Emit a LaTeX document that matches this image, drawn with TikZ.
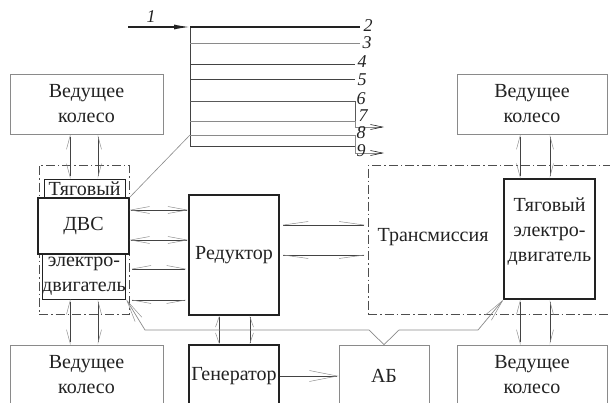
\documentclass[tikz,border=0pt]{standalone}
\usepackage{fontspec}
\setmainfont{Liberation Serif}
\usetikzlibrary{arrows.meta,calc}
\definecolor{ink}{HTML}{222222}
\definecolor{lg}{HTML}{8A8A8A}
\definecolor{tipgray}{HTML}{8F8F8F}
\begin{document}
\begin{tikzpicture}[x=1pt,y=-1pt,
  txt/.style={font=\fontsize{20}{25}\selectfont, text=ink, align=center},
  num/.style={font=\fontsize{18}{18}\selectfont\itshape, text=ink, inner sep=0pt},
  gbox/.style={draw=lg, line width=0.8pt, inner sep=0pt, fill=white, txt},
  kbox/.style={draw=ink, line width=1.3pt, inner sep=0pt, fill=white, txt},
  mbox/.style={draw=ink, line width=0.9pt, inner sep=0pt, fill=white, txt},
  ddbox/.style={draw=ink!80, line width=0.6pt, dash pattern=on 9pt off 3pt on 1.5pt off 3pt},
  conn/.style={draw=ink!85, line width=0.7pt},
  hA/.style={{Straight Barb[harpoon,swap,length=#1,width=7pt,line width=0.5pt,color=tipgray]}-{Straight Barb[harpoon,length=#1,width=7pt,line width=0.5pt,color=tipgray]}},
  hB/.style={{Straight Barb[harpoon,length=#1,width=7pt,line width=0.5pt,color=tipgray]}-{Straight Barb[harpoon,swap,length=#1,width=7pt,line width=0.5pt,color=tipgray]}},
  hF/.style={{Straight Barb[length=#1,width=7pt,line width=0.5pt,color=tipgray]}-{Straight Barb[length=#1,width=7pt,line width=0.5pt,color=tipgray]}},
]
\clip (0,0) rectangle (610,402);

% dash-dot groups
\node[ddbox, minimum width=90pt, minimum height=149pt, inner sep=0pt] (hyb) at (84,239.5) {};
\node[ddbox, minimum width=262pt, minimum height=149pt, inner sep=0pt] (trans) at (499,239.5) {};
\node[txt] (transT) at (433,237) {Трансмиссия};

% wheels
\node[gbox, minimum width=153pt, minimum height=60pt] (wTL) at (86.5,104) {Ведущее\\колесо};
\node[gbox, minimum width=150pt, minimum height=60pt] (wTR) at (532,104) {Ведущее\\колесо};
\node[gbox, minimum width=153pt, minimum height=60pt] (wBL) at (86.5,375) {Ведущее\\колесо};
\node[gbox, minimum width=150pt, minimum height=60pt] (wBR) at (532,375) {Ведущее\\колесо};

% hybrid block
\node[mbox, minimum width=81pt, minimum height=19pt] (tyag) at (84.5,188.5) {Тяговый};
\node[mbox, minimum width=82pt, minimum height=45pt] (emL) at (84,276.5) {электро-\\двигатель};
\node[kbox, minimum width=91pt, minimum height=56pt] (dvs) at (83.5,226) {ДВС};

% other blocks
\node[kbox, minimum width=90pt, minimum height=120pt] (red) at (234,255) {Редуктор};
\node[kbox, minimum width=90pt, minimum height=62pt] (gen) at (234,376) {Генератор};
\node[gbox, minimum width=90pt, minimum height=62pt] (ab) at (384,376) {АБ};
\node[kbox, minimum width=91pt, minimum height=120pt] (motR) at (549.5,239) {};
\node[txt] (motRt) at (549.5,232) {Тяговый\\электро-\\двигатель};

% wheel connectors
\draw[conn, hB=13pt] (70,0 |- wTL.south) -- (70,0 |- tyag.north);
\draw[conn, hA=13pt] (98,0 |- wTL.south) -- (98,0 |- tyag.north);
\draw[conn, hB=13pt] (70,0 |- emL.south) -- (70,0 |- wBL.north);
\draw[conn, hA=13pt] (98,0 |- emL.south) -- (98,0 |- wBL.north);
\draw[conn, hB=13pt] (520,0 |- wTR.south) -- (520,0 |- motR.north);
\draw[conn, hA=13pt] (550,0 |- wTR.south) -- (550,0 |- motR.north);
\draw[conn, hB=13pt] (520,0 |- motR.south) -- (520,0 |- wBR.north);
\draw[conn, hA=13pt] (550,0 |- motR.south) -- (550,0 |- wBR.north);

% hybrid block to reducer
\draw[conn, hF=19pt] (hyb.east |- 0,210) -- (red.west |- 0,210);
\draw[conn, hF=19pt] (hyb.east |- 0,240) -- (red.west |- 0,240);
\draw[conn, hA=19pt] (hyb.east |- 0,269) -- (red.west |- 0,269);
\draw[conn, hB=19pt] (hyb.east |- 0,300) -- (red.west |- 0,300);

% reducer to transmission
\draw[conn, hA=25pt] (red.east |- 0,225) -- (trans.west |- 0,225);
\draw[conn, hB=25pt] (red.east |- 0,255) -- (trans.west |- 0,255);

% reducer to generator
\draw[conn, hB=10pt] (219,0 |- red.south) -- (219,0 |- gen.north);
\draw[conn, hA=10pt] (250,0 |- red.south) -- (250,0 |- gen.north);

% generator to battery
\draw[conn, -{Straight Barb[length=28pt,width=11pt,line width=0.5pt,color=tipgray]}] (gen.east) -- (ab.west);

% electrical line
\draw[draw=lg, line width=0.7pt,
  {Straight Barb[length=22pt,width=8pt,line width=0.5pt,color=tipgray]}-{Straight Barb[length=22pt,width=8pt,line width=0.5pt,color=tipgray]}]
  (emL.south east) -- (145,330) -- (369,330) -- (ab.north) -- (399,330) -- (478,330) -- (motR.south west);

% legend
\coordinate (l0) at (190,27);
\coordinate (l9) at (190,146);
\draw[line width=1.3pt, draw=ink, -{Latex[length=16pt,width=5pt]}] (128,27) -- (l0);
\node[num] (n1) at (151,17) {1};
\draw[draw=ink!85, line width=0.7pt] (l0) -- (l9);
\draw[draw=ink, line width=1.1pt] (l0) -- (360,27);
\draw[draw=lg, line width=0.8pt] (190,43) -- (360,43);
\draw[draw=ink!85, line width=0.7pt] (190,64) -- (355,64);
\draw[draw=ink!85, line width=0.7pt] (190,79) -- (355,79);
\draw[draw=ink!75, line width=0.7pt] (190,101) -- (355,101) -- (355,127);
\draw[draw=lg, line width=0.7pt] (190,121) -- (355,121);
\draw[draw=lg, line width=0.7pt, -{Straight Barb[length=12pt,width=5pt,line width=0.6pt,color=ink]}] (355,121) -- (355,127) -- (384,127);
\draw[draw=lg, line width=0.8pt] (190,135) -- (355,135) -- (355,146);
\draw[draw=ink!85, line width=0.7pt] (l9) -- (355,146);
\draw[draw=lg, line width=0.7pt, -{Straight Barb[length=12pt,width=5pt,line width=0.6pt,color=ink]}] (355,146) -- (355,153) -- (384,153);
\draw[draw=lg, line width=0.6pt] (190,135) -- (dvs.north east);

\node[num] (n2) at (368,26) {2};
\node[num] (n3) at (367,43) {3};
\node[num] (n4) at (362,62) {4};
\node[num] (n5) at (362,80) {5};
\node[num] (n6) at (361,99) {6};
\node[num] (n7) at (363,116) {7};
\node[num] (n8) at (361,133) {8};
\node[num] (n9) at (361,151) {9};
\end{tikzpicture}
\end{document}
